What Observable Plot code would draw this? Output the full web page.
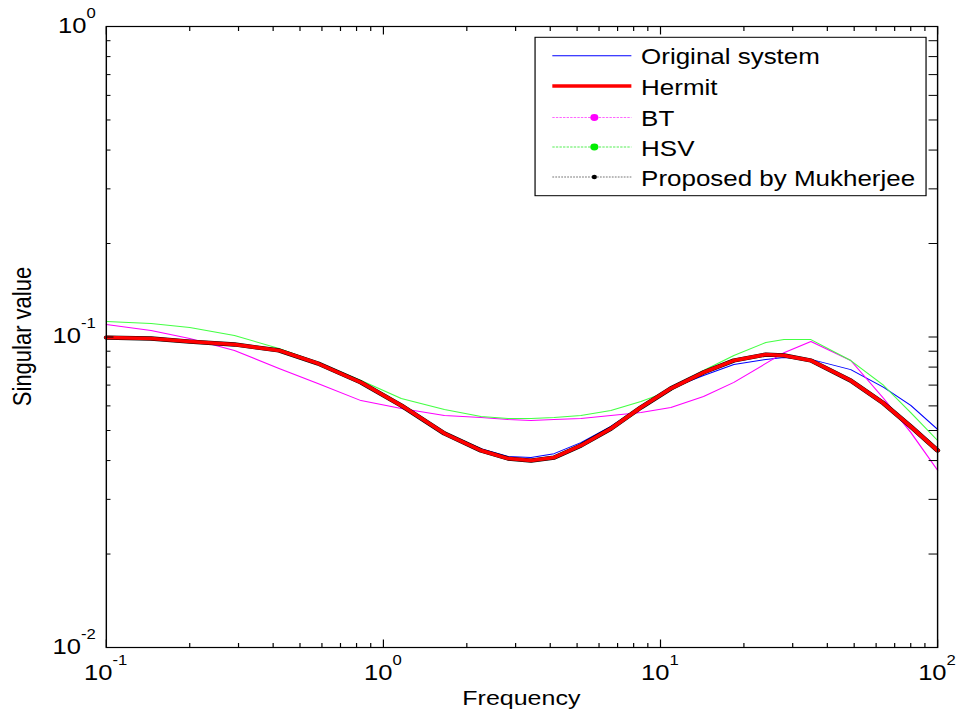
<!DOCTYPE html>
<html><head><meta charset="utf-8">
<script src="https://cdn.jsdelivr.net/npm/d3@7"></script>
<script src="https://cdn.jsdelivr.net/npm/@observablehq/plot@0.6"></script>
<style>
html,body{margin:0;padding:0;background:#fff;}
#chart svg{display:block;}
</style></head><body><div id="chart"></div>
<script>
// ---- data ----
const freq = [0.1, 0.145, 0.2, 0.29, 0.42, 0.58, 0.83, 1.16, 1.66, 2.25, 2.82, 3.41, 4.13, 5.16, 6.62, 8.5, 10.9, 14.3, 18.4, 24.0, 27.9, 34.9, 48.6, 63.9, 80.0, 100];
const original  = [0.0996,0.0989,0.0967,0.0946,0.0905,0.0822,0.0714,0.0602,0.0493,0.0437,0.0412,0.0409,0.0421,0.0457,0.0515,0.0597,0.0683,0.0752,0.0816,0.0847,0.0859,0.0847,0.0785,0.0688,0.0602,0.0504];
const hermit    = [0.0996,0.0989,0.0967,0.0946,0.0905,0.0822,0.0714,0.0602,0.0489,0.0431,0.0406,0.0400,0.0409,0.0447,0.0507,0.0593,0.0683,0.0769,0.0840,0.0878,0.0872,0.0840,0.0724,0.0611,0.0515,0.0431];
const bt        = [0.1097,0.1049,0.0989,0.0905,0.0792,0.0708,0.0624,0.0588,0.0559,0.0550,0.0542,0.0538,0.0542,0.0546,0.0559,0.0571,0.0593,0.0643,0.0714,0.0822,0.0890,0.0967,0.0840,0.0634,0.0493,0.0372];
const hsv       = [0.1122,0.1105,0.1073,0.1011,0.0918,0.0828,0.0724,0.0634,0.0584,0.0555,0.0546,0.0546,0.0550,0.0559,0.0580,0.0620,0.0673,0.0780,0.0872,0.0960,0.0981,0.0981,0.0840,0.0698,0.0571,0.0464];
const mukherjee = [0.0996,0.0989,0.0967,0.0946,0.0905,0.0822,0.0714,0.0602,0.0489,0.0431,0.0406,0.0400,0.0409,0.0447,0.0507,0.0593,0.0683,0.0769,0.0840,0.0878,0.0872,0.0840,0.0724,0.0611,0.0515,0.0431];

const xMajor = [0.1, 1, 10, 100];
const xMinor = [0.2,0.3,0.4,0.5,0.6,0.7,0.8,0.9, 2,3,4,5,6,7,8,9, 20,30,40,50,60,70,80,90];
const yMajor = [0.01, 0.1, 1];
const yMinor = [0.02,0.03,0.04,0.05,0.06,0.07,0.08,0.09, 0.2,0.3,0.4,0.5,0.6,0.7,0.8,0.9];
const xTickBase = ["10","10","10","10"];
const xTickExp  = ["-1","0","1","2"];
const yTickBase = ["10","10","10"];
const yTickExp  = ["-2","-1","0"];
const xTitle = "Frequency";
const yTitle = "Singular value";
const legendLabels = ["Original system","Hermit","BT","HSV","Proposed by Mukherjee"];

// ---- layout ----
const OUT_W = 962, OUT_H = 717;
const W = 808, H = 717;           // drawn narrower, then stretched horizontally like the reference
const mL = 88.8, mR = 21, mT = 26, mB = 70;
const FONT = "'Liberation Sans', Arial, Helvetica, sans-serif";

const rows = ys => freq.map((f, i) => ({f, v: ys[i]}));
const tickShape = {draw(ctx, l) { ctx.moveTo(0, 0); ctx.lineTo(0, -l); }};
const tk = (fn, data, anchor, len, rot) => fn(data, {
  frameAnchor: anchor, length: len, rotate: rot, anchor: "start",
  shape: tickShape, stroke: "black", strokeWidth: 1, strokeLinecap: "butt"
});

const chart = Plot.plot({
  width: W, height: H,
  marginLeft: mL, marginRight: mR, marginTop: mT, marginBottom: mB,
  x: {type: "log", domain: [0.1, 100], axis: null},
  y: {type: "log", domain: [0.01, 1], axis: null},
  style: {fontFamily: FONT, background: "white"},
  marks: [
    Plot.line(rows(original), {x: "f", y: "v", stroke: "#0000ff", strokeWidth: 1}),
    Plot.line(rows(bt), {x: "f", y: "v", stroke: "#ff00ff", strokeWidth: 1}),
    Plot.line(rows(hsv), {x: "f", y: "v", stroke: "#44ff44", strokeWidth: 1}),
    Plot.line(rows(mukherjee), {x: "f", y: "v", stroke: "#000000", strokeWidth: 4.3}),
    Plot.line(rows(hermit), {x: "f", y: "v", stroke: "#ff0000", strokeWidth: 3.5}),
    Plot.frame({stroke: "black", strokeWidth: 1.2}),
    tk(Plot.vectorX, xMajor, "bottom", 8, 0),
    tk(Plot.vectorX, xMinor, "bottom", 4.5, 0),
    tk(Plot.vectorX, xMajor, "top", 8, 180),
    tk(Plot.vectorX, xMinor, "top", 4.5, 180),
    tk(Plot.vectorY, yMajor, "left", 6, 90),
    tk(Plot.vectorY, yMinor, "left", 3.5, 90),
    tk(Plot.vectorY, yMajor, "right", 7.6, -90),
    tk(Plot.vectorY, yMinor, "right", 7.6, -90)
  ]
});

// stretch horizontally to the output size
const svg = d3.select(chart);
svg.attr("width", OUT_W).attr("height", OUT_H)
   .attr("viewBox", `0 0 ${W} ${H}`)
   .attr("preserveAspectRatio", "none")
   .attr("style", `display:block;background:white;width:${OUT_W}px;height:${OUT_H}px;max-width:none;`);

const xs = chart.scale("x"), ys = chart.scale("y");
const g = svg.append("g").attr("font-family", FONT).attr("fill", "black");

// tick labels with superscript exponents
xMajor.forEach((v, i) => {
  const t = g.append("text").attr("x", xs.apply(v)).attr("y", 680)
    .attr("text-anchor", "middle").attr("font-size", 21.5);
  t.append("tspan").text(xTickBase[i]);
  t.append("tspan").attr("dy", -15).attr("font-size", 14).text(xTickExp[i]);
});
yMajor.forEach((v, i) => {
  const t = g.append("text").attr("x", 80.5).attr("y", ys.apply(v) + 7)
    .attr("text-anchor", "end").attr("font-size", 21.5);
  t.append("tspan").text(yTickBase[i]);
  t.append("tspan").attr("dy", -15).attr("font-size", 14).text(yTickExp[i]);
});

// axis titles
g.append("text").attr("x", (mL + W - mR) / 2).attr("y", 705)
  .attr("text-anchor", "middle").attr("font-size", 21).text(xTitle);
g.append("text").attr("transform", `translate(26,${(mT + H - mB) / 2}) rotate(-90)`)
  .attr("text-anchor", "middle").attr("font-size", 22).text(yTitle);

// legend
const lg = svg.append("g").attr("font-family", FONT).attr("text-anchor", "start");
lg.append("rect").attr("x", 449.4).attr("y", 37.3).attr("width", 328.4).attr("height", 158.4)
  .attr("fill", "white").attr("stroke", "black").attr("stroke-width", 1);
const rowsY = [55.7, 86, 117.5, 147, 177];
const styles = [
  {stroke: "#0000ff", w: 1, dash: null, dot: null},
  {stroke: "#ff0000", w: 3.5, dash: null, dot: null},
  {stroke: "#ff66ff", w: 1, dash: "2,1", dot: {fill: "#ff00ff", r: 3.4}},
  {stroke: "#55ee55", w: 1, dash: "2,1", dot: {fill: "#00ee00", r: 3.4}},
  {stroke: "#777777", w: 1, dash: "1.5,1", dot: {fill: "#000000", r: 2.2}}
];
legendLabels.forEach((lab, i) => {
  const y = rowsY[i], s = styles[i];
  const ln = lg.append("line").attr("x1", 463.9).attr("x2", 530.3).attr("y1", y).attr("y2", y)
    .attr("stroke", s.stroke).attr("stroke-width", s.w);
  if (s.dash) ln.attr("stroke-dasharray", s.dash);
  if (s.dot) lg.append("circle").attr("cx", 499.2).attr("cy", y).attr("r", s.dot.r).attr("fill", s.dot.fill);
  lg.append("text").attr("x", 538.5).attr("y", y + 8.6).attr("font-size", 21.8)
    .attr("text-anchor", "start").attr("fill", "black").text(lab);
});

document.getElementById("chart").appendChild(chart);
</script>
</body></html>
